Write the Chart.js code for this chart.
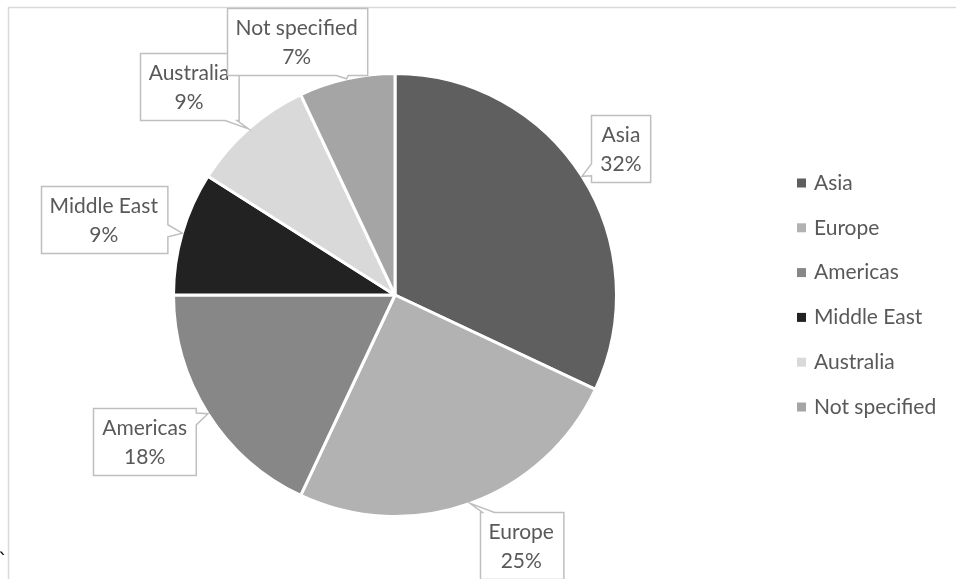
<!DOCTYPE html>
<html>
<head>
<meta charset="utf-8">
<script src="https://cdn.jsdelivr.net/npm/chart.js@4.4.0/dist/chart.umd.min.js"></script>
<style>
    body { margin: 0; background: #fff; }
</style>
</head>
<body>
<canvas id="regionChart" width="956" height="579"></canvas>
<script>
const regions = ['Asia', 'Europe', 'Americas', 'Middle East', 'Australia', 'Not specified']
const shares = [32, 25, 18, 9, 9, 7]
const sliceColors = ['#5f5f5f', '#b2b2b2', '#878787', '#222222', '#d9d9d9', '#a5a5a5']
// callout box centres, as a fraction of the pie radius from the pie centre
const calloutX = [1.02, 0.57, -1.13, -1.315, -0.93, -0.444]
const calloutY = [-0.66, 1.13, 0.66, -0.34, -0.94, -1.144]

const FONT = '21px Lato'
const TEXT_COLOR = '#595959'

// thin frame round the chart, as in the original
const framePlugin = {
    id: 'frame',
    beforeDraw(chart) {
        const ctx = chart.ctx
        ctx.save()
        ctx.strokeStyle = '#d9d9d9'
        ctx.lineWidth = 1.5
        ctx.beginPath()
        ctx.moveTo(8.5, chart.height)
        ctx.lineTo(8.5, 7.5)
        ctx.lineTo(chart.width, 7.5)
        ctx.stroke()
        ctx.fillStyle = '#000'
        ctx.font = '20px "DejaVu Sans"'
        ctx.textBaseline = 'top'
        ctx.fillText('`', -2, 552)
        ctx.restore()
    }
}

// box with a wedge pointing at the slice
function calloutPath(ctx, l, t, r, b, tip) {
    const cx = (l + r) / 2, cy = (t + b) / 2
    const dx = tip.x - cx, dy = tip.y - cy
    // which edge does the line centre->tip cross
    const sx = dx !== 0 ? ((dx > 0 ? r : l) - cx) / dx : Infinity
    const sy = dy !== 0 ? ((dy > 0 ? b : t) - cy) / dy : Infinity
    const corners = [[l, t], [r, t], [r, b], [l, b]]
    let edge
    if (sx < sy) edge = dx > 0 ? 1 : 3
    else edge = dy > 0 ? 2 : 0
    const s = Math.min(sx, sy)
    const px = cx + dx * s, py = cy + dy * s
    const a = corners[edge], z = corners[(edge + 1) % 4]
    const len = Math.hypot(z[0] - a[0], z[1] - a[1])
    const ux = (z[0] - a[0]) / len, uy = (z[1] - a[1]) / len
    let pos = (px - a[0]) * ux + (py - a[1]) * uy
    const half = 6
    pos = Math.max(half + 2, Math.min(len - half - 2, pos))
    ctx.beginPath()
    ctx.moveTo(corners[0][0], corners[0][1])
    for (let k = 0; k < 4; k++) {
        const c0 = corners[k]
        if (k === edge) {
            ctx.lineTo(c0[0] + ux * (pos - half), c0[1] + uy * (pos - half))
            ctx.lineTo(tip.x, tip.y)
            ctx.lineTo(c0[0] + ux * (pos + half), c0[1] + uy * (pos + half))
        }
        const c1 = corners[(k + 1) % 4]
        ctx.lineTo(c1[0], c1[1])
    }
    ctx.closePath()
}

const calloutPlugin = {
    id: 'callouts',
    afterDatasetsDraw(chart) {
        const ctx = chart.ctx
        const meta = chart.getDatasetMeta(0)
        ctx.save()
        ctx.font = FONT
        ctx.textAlign = 'center'
        ctx.textBaseline = 'middle'
        meta.data.forEach((arc, i) => {
            const { x, y, startAngle, endAngle, outerRadius } = arc.getProps(['x', 'y', 'startAngle', 'endAngle', 'outerRadius'], true)
            const mid = (startAngle + endAngle) / 2
            const tip = { x: x + Math.cos(mid) * outerRadius, y: y + Math.sin(mid) * outerRadius }
            const lines = [regions[i], shares[i] + '%']
            const w = Math.max(...lines.map(s => ctx.measureText(s).width)) + 18
            const h = 67
            const bx = x + calloutX[i] * outerRadius
            const by = y + calloutY[i] * outerRadius
            const l = Math.round(bx - w / 2) + 0.5, t = Math.round(by - h / 2) + 0.5
            calloutPath(ctx, l, t, l + w, t + h, tip)
            ctx.fillStyle = '#fff'
            ctx.fill()
            ctx.strokeStyle = '#bfbfbf'
            ctx.lineWidth = 1.5
            ctx.stroke()
            ctx.fillStyle = TEXT_COLOR
            ctx.fillText(lines[0], bx, t + h / 2 - 14)
            ctx.fillText(lines[1], bx, t + h / 2 + 15)
        })
        ctx.restore()
    }
}

const legendPlugin = {
    id: 'sideLegend',
    afterDraw(chart) {
        const ctx = chart.ctx
        const left = chart.chartArea.right + 179
        const top = chart.chartArea.top + 111
        ctx.save()
        ctx.font = FONT
        ctx.textBaseline = 'middle'
        regions.forEach((name, i) => {
            const cy = top + i * 44.8
            ctx.fillStyle = sliceColors[i]
            ctx.fillRect(left, cy - 4.5, 9, 9)
            ctx.fillStyle = TEXT_COLOR
            ctx.fillText(name, left + 17, cy)
        })
        ctx.restore()
    }
}

const ctx = document.getElementById('regionChart').getContext('2d')

new Chart(ctx, {
    type: 'pie',
    data: {
        labels: regions,
        datasets: [{
            data: shares,
            backgroundColor: sliceColors,
            borderColor: '#ffffff',
            borderWidth: 3,
        }]
    },
    options: {
        responsive: false,
        animation: false,
        devicePixelRatio: 1,
        layout: {
            padding: { left: 172, top: 72, right: 338, bottom: 61 }
        },
        plugins: {
            legend: { display: false },
            tooltip: { enabled: false }
        }
    },
    plugins: [framePlugin, calloutPlugin, legendPlugin]
})
</script>
</body>
</html>
